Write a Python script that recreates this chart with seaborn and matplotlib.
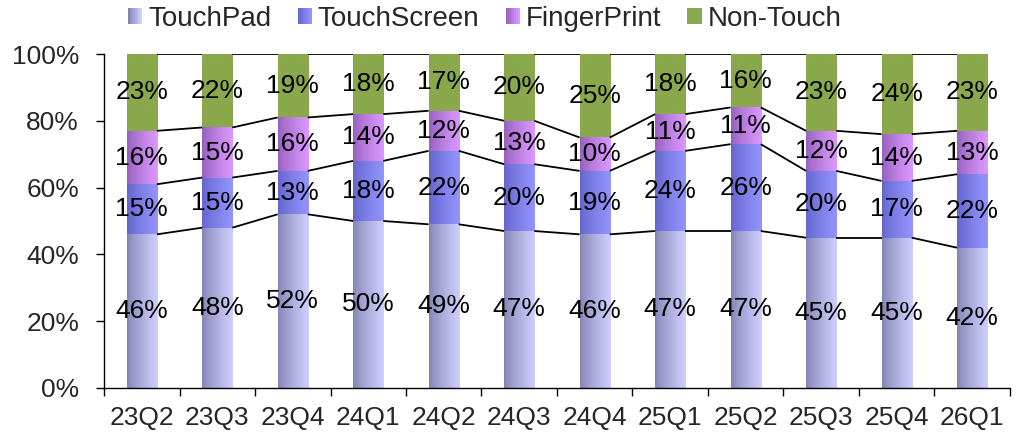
import numpy as np
import pandas as pd
import matplotlib
matplotlib.use("Agg")
import matplotlib.pyplot as plt
import seaborn as sns
from matplotlib.colors import LinearSegmentedColormap
from matplotlib.legend_handler import HandlerBase
from matplotlib.patches import Rectangle

quarters = ["23Q2", "23Q3", "23Q4", "24Q1", "24Q2", "24Q3", "24Q4",
            "25Q1", "25Q2", "25Q3", "25Q4", "26Q1"]
series = ["TouchPad", "TouchScreen", "FingerPrint", "Non-Touch"]
touchpad = [46, 48, 52, 50, 49, 47, 46, 47, 47, 45, 45, 42]
touchscreen = [15, 15, 13, 18, 22, 20, 19, 24, 26, 20, 17, 22]
fingerprint = [16, 15, 16, 14, 12, 13, 10, 11, 11, 12, 14, 13]
nontouch = [23, 22, 19, 18, 17, 20, 25, 18, 16, 23, 24, 23]
yticks = [0, 20, 40, 60, 80, 100]

# gradient colours (left -> right)
grads = {
    "TouchPad": ("#8484b4", "#cfcfff"),
    "TouchScreen": ("#6464cc", "#9494ff"),
    "FingerPrint": ("#9460bc", "#dc98ff"),
    "Non-Touch": ("#8aa84c", "#8aa84c"),
}

sns.set_theme(style="white")
plt.rcParams['font.family'] = ['Liberation Sans', 'DejaVu Sans']

vals = [touchpad, touchscreen, fingerprint, nontouch]
df = pd.DataFrame({"quarter": quarters})
for name, v in zip(series, vals):
    df[name] = np.array(v) / 100.0
cum = df[series].cumsum(axis=1)

fig = plt.figure(figsize=(10.16, 4.32), dpi=100)
ax = fig.add_axes([0.1024, 0.1019, 0.8916, 0.7731])

# draw cumulative bars from top series down, so lower series cover upper
bar_groups = {}
for k in range(len(series) - 1, -1, -1):
    name = series[k]
    n_before = len(ax.patches)
    sns.barplot(x=df["quarter"], y=cum[name], ax=ax, width=0.4,
                color=grads[name][1], errorbar=None, linewidth=0)
    bar_groups[name] = ax.patches[n_before:]

# apply horizontal gradients clipped to patches
for k, name in enumerate(series):
    c0, c1 = grads[name]
    cmap = LinearSegmentedColormap.from_list(name, [c0, c1])
    grad = np.linspace(0, 1, 64) ** 0.8
    grad = grad.reshape(1, -1)
    for p in bar_groups[name]:
        p.set_facecolor("none")
        p.set_edgecolor("none")
        x0, w, h = p.get_x(), p.get_width(), p.get_height()
        im = ax.imshow(grad, cmap=cmap, aspect="auto",
                       extent=[x0, x0 + w, 0, h], origin="lower",
                       zorder=2 + (len(series) - k) * 0.01, interpolation="bilinear")
        im.set_clip_path(p)

# series lines
for k, name in enumerate(series):
    ps = bar_groups[name]
    for i in range(len(ps) - 1):
        a, b = ps[i], ps[i + 1]
        ax.plot([a.get_x() + a.get_width(), b.get_x()],
                [a.get_height(), b.get_height()], color="black", lw=1.3,
                zorder=3, solid_capstyle="butt")

# data labels
for k, name in enumerate(series):
    ps = bar_groups[name]
    for i, p in enumerate(ps):
        top = p.get_height()
        v = df[name].iloc[i]
        ax.text(p.get_x() + p.get_width() / 2, top - v / 2, f"{v*100:.0f}%",
                ha="center", va="center", fontsize=19, color="black", zorder=5)

ax.set_xlim(-0.5, len(quarters) - 0.5)
ax.set_ylim(0, 1)
ax.set_yticks([t / 100 for t in yticks])
ax.set_yticklabels([f"{t}%" for t in yticks], fontsize=19)
ax.set_xticks(range(len(quarters)))
ax.set_xticklabels(quarters, fontsize=19)
ax.set_xticks(np.arange(len(quarters) + 1) - 0.5, minor=True)
ax.tick_params(axis="x", which="major", length=0, pad=13)
ax.tick_params(axis="x", which="minor", length=6, width=1, color="black", direction="out", bottom=True)
ax.tick_params(axis="y", which="major", length=6, width=1, color="black", direction="out", left=True, pad=12)
ax.set_xlabel("")
ax.set_ylabel("")
for s in ["top", "right"]:
    ax.spines[s].set_visible(False)
for s in ["left", "bottom"]:
    ax.spines[s].set_color("black")
    ax.spines[s].set_linewidth(1)


class GradHandler(HandlerBase):
    def __init__(self, c0, c1):
        super().__init__()
        self.c0, self.c1 = c0, c1

    def create_artists(self, legend, orig_handle, xdescent, ydescent,
                       width, height, fontsize, trans):
        cmap = LinearSegmentedColormap.from_list("h", [self.c0, self.c1])
        n = 8
        arts = []
        for j in range(n):
            r = Rectangle((-xdescent + width * j / n, -ydescent),
                          width / n + 0.3, height,
                          facecolor=cmap(j / (n - 1)), edgecolor="none",
                          transform=trans)
            arts.append(r)
        return arts


handles = [Rectangle((0, 0), 1, 1) for _ in series]
hmap = {h: GradHandler(*grads[n]) for h, n in zip(handles, series)}
fig.legend(handles, series, handler_map=hmap, loc="center left",
           bbox_to_anchor=(0.126, 0.956), ncol=4, frameon=False, fontsize=20,
           handlelength=0.5, handleheight=0.5, handletextpad=0.22,
           columnspacing=0.95, borderpad=0, borderaxespad=0)

fig.savefig("out.png", dpi=100)
